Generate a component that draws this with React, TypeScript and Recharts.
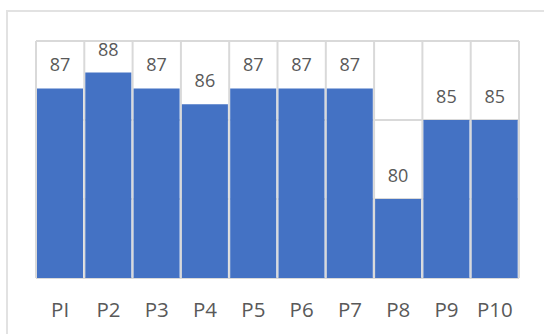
import React from "react";
import { BarChart, Bar, XAxis, YAxis, CartesianGrid, LabelList } from "recharts";

const categories = ["PI", "P2", "P3", "P4", "P5", "P6", "P7", "P8", "P9", "P10"];
const values = [87, 88, 87, 86, 87, 87, 87, 80, 85, 85];
const yTicks = [75, 80, 85, 90];

const data = categories.map((name, i) => ({ name, value: values[i] }));

const FONT = "'Open Sans', sans-serif";

const CatTick = (props: any) => {
  const { x, y, payload } = props;
  return (
    <text x={x} y={y} dy={22} textAnchor="middle" fill="#595959" fontSize={20.5} fontFamily={FONT}>
      {payload.value}
    </text>
  );
};

export default function App() {
  return (
    <div style={{ position: "absolute", left: 0, top: 0, width: 544, height: 334, overflow: "hidden", background: "#fff" }}>
      <div
        style={{
          position: "absolute",
          left: 6,
          top: 10,
          width: 600,
          height: 400,
          border: "2px solid #e2e2e2",
          boxSizing: "border-box",
        }}
      />
      <div style={{ position: "absolute", left: 0, top: 0 }}>
        <BarChart
          width={544}
          height={334}
          data={data}
          margin={{ top: 41, right: 25, bottom: 16, left: 36 }}
          barCategoryGap={1}
        >
          <CartesianGrid
            stroke="#d9d9d9"
            strokeWidth={2}
            horizontal={true}
            vertical={true}
            verticalCoordinatesGenerator={({ offset }: any) =>
              categories.map((_, i) => offset.left + (i * offset.width) / categories.length).concat([offset.left + offset.width])
            }
          />
          <XAxis
            dataKey="name"
            axisLine={false}
            tickLine={false}
            tickSize={0}
            tickMargin={17}
            height={40}
            interval={0}
            tick={<CatTick />}
          />
          <YAxis hide domain={[75, 90]} ticks={yTicks} allowDataOverflow />
          <Bar dataKey="value" fill="#4472C4" isAnimationActive={false}>
            <LabelList
              dataKey="value"
              position="top"
              offset={17}
              fill="#595959"
              fontSize={18}
              fontFamily={FONT}
            />
          </Bar>
        </BarChart>
      </div>
    </div>
  );
}
